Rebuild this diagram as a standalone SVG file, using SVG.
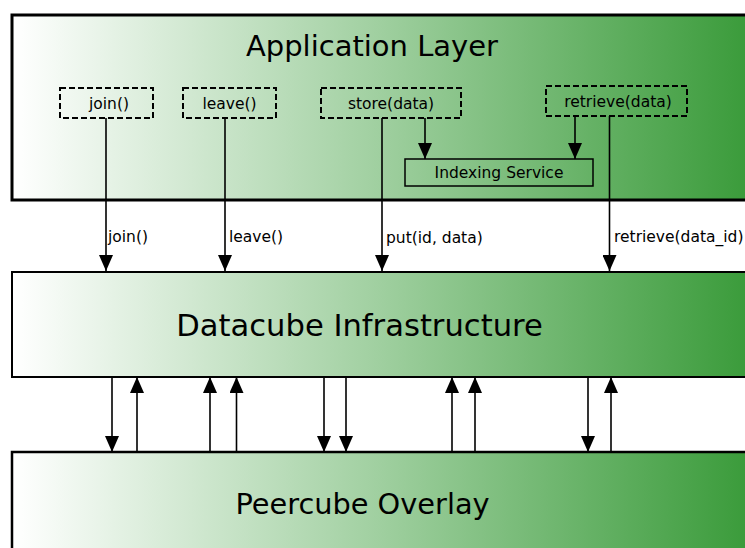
<svg xmlns="http://www.w3.org/2000/svg" width="745" height="548" viewBox="0 0 745 548">
<defs>
<linearGradient id="g" gradientUnits="userSpaceOnUse" x1="14" y1="0" x2="750" y2="0">
<stop offset="0" stop-color="#ffffff"/>
<stop offset="0.5" stop-color="#9fcf9f"/>
<stop offset="1" stop-color="#3a9b3a"/>
</linearGradient>
<marker id="ah" viewBox="0 0 16 14" refX="16" refY="7" markerWidth="16" markerHeight="14" markerUnits="userSpaceOnUse" orient="auto">
<path d="M0,0 L16,7 L0,14 Z" fill="#000"/>
</marker>
</defs>
<style>
.layer{fill:url(#g);stroke:#000}
.title{font-family:"DejaVu Sans",sans-serif;fill:#000;text-anchor:middle}
.dbox{fill:none;stroke:#000;stroke-width:2;stroke-dasharray:6,3}
.lbl{font-family:"DejaVu Sans",sans-serif;font-size:15.5px;fill:#000}
.mid{text-anchor:middle}
.c{stroke:#000;stroke-width:1.6;fill:none;marker-end:url(#ah)}
</style>
<g id="application-layer">
<rect class="layer" x="12" y="15" width="760" height="185" stroke-width="3"/>
<text class="title" x="372" y="56" font-size="29">Application Layer</text>
</g>
<g id="join-box"><rect class="dbox" x="60" y="88" width="93" height="30"/><text class="lbl mid" x="109" y="109">join()</text></g>
<g id="leave-box"><rect class="dbox" x="183" y="88" width="93" height="30"/><text class="lbl mid" x="229.5" y="109">leave()</text></g>
<g id="store-box"><rect class="dbox" x="321" y="88" width="140" height="30"/><text class="lbl mid" x="391" y="109">store(data)</text></g>
<g id="retrieve-box"><rect class="dbox" x="546" y="86" width="141" height="30"/><text class="lbl mid" x="618" y="107">retrieve(data)</text></g>
<g id="indexing-service"><rect x="405" y="159" width="188" height="27" fill="none" stroke="#000" stroke-width="1.5"/><text class="lbl mid" x="499" y="178" font-size="14.7px">Indexing Service</text></g>
<g id="datacube-infrastructure">
<rect class="layer" x="12" y="272" width="760" height="105" stroke-width="2"/>
<text class="title" x="359.5" y="336" font-size="30.6">Datacube Infrastructure</text>
</g>
<g id="peercube-overlay">
<rect class="layer" x="12" y="452" width="760" height="110" stroke-width="2.5"/>
<text class="title" x="362.5" y="514" font-size="28.8">Peercube Overlay</text>
</g>
<g id="connectors">
<line class="c" x1="106" y1="118" x2="106" y2="271"/>
<line class="c" x1="225" y1="118" x2="225" y2="271"/>
<line class="c" x1="382" y1="118" x2="382" y2="271"/>
<line class="c" x1="609.5" y1="116" x2="609.5" y2="271"/>
<line class="c" x1="425" y1="118" x2="425" y2="159"/>
<line class="c" x1="575" y1="116" x2="575" y2="159"/>
<text class="lbl" x="108" y="242">join()</text>
<text class="lbl" x="229" y="242">leave()</text>
<text class="lbl" x="386" y="243">put(id, data)</text>
<text class="lbl" x="614" y="242">retrieve(data_id)</text>
<line class="c" x1="112" y1="376" x2="112" y2="452"/>
<line class="c" x1="137" y1="452" x2="137" y2="377"/>
<line class="c" x1="210" y1="452" x2="210" y2="377"/>
<line class="c" x1="236.5" y1="452" x2="236.5" y2="377"/>
<line class="c" x1="324" y1="376" x2="324" y2="452"/>
<line class="c" x1="346" y1="376" x2="346" y2="452"/>
<line class="c" x1="452" y1="452" x2="452" y2="377"/>
<line class="c" x1="475" y1="452" x2="475" y2="377"/>
<line class="c" x1="588" y1="376" x2="588" y2="452"/>
<line class="c" x1="611" y1="452" x2="611" y2="377"/>
</g>
</svg>
